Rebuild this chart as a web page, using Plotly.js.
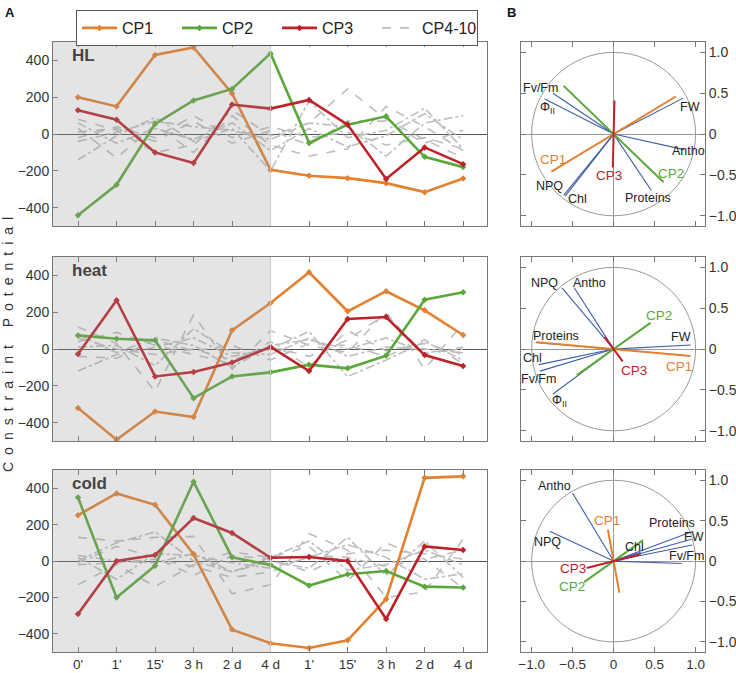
<!DOCTYPE html>
<html>
<head>
<meta charset="utf-8">
<script src="https://cdn.plot.ly/plotly-3.0.1.min.js"></script>
<style>html,body{margin:0;padding:0;background:#fff;}</style>
</head>
<body>
<div id="chart" style="width:736px;height:673px;"></div>
<script>
// ---------------- DATA ----------------
const timeLabels = ["0'", "1'", "15'", "3 h", "2 d", "4 d", "1'", "15'", "3 h", "2 d", "4 d"];
const timeIdx = [0,1,2,3,4,5,6,7,8,9,10];
const panelNames = ["HL", "heat", "cold"];

// Panel A: constraint potentials
const hlCP1 = [200, 150, 430, 470, 220, -195, -227, -240, -267, -316, -242];
const hlCP2 = [-442, -276, 55, 182, 245, 438, -49, 51, 96, -124, -180];
const hlCP3 = [129, 78, -100, -158, 160, 138, 185, 51, -244, -73, -164];
const hlRest = [
  [80, 20, -100, -60, 130, -10, 60, 245, 80, -30, -130],
  [-140, -10, 90, -40, 30, -200, 180, -20, 20, 140, -80],
  [30, -130, 50, -100, 100, -60, -120, -80, 150, 40, -90],
  [-40, 10, 70, 40, 20, -30, 60, 40, -120, 60, 100],
  [10, 30, -40, 70, -50, 20, -60, 70, 70, -50, 20],
  [60, -50, 30, -30, 60, -90, 30, -70, -10, 110, -30],
  [-20, 40, -20, 100, -20, 40, -20, 10, -60, -20, -80]
];

const heatCP1 = [-320, -493, -340, -370, 102, 250, 417, 205, 314, 210, 76];
const heatCP2 = [74, 56, 47, -267, -149, -127, -85, -105, -36, 268, 308];
const heatCP3 = [-27, 265, -149, -125, -73, 11, -120, 163, 174, -33, -93];
const heatRest = [
  [120, 30, -230, 185, -110, 100, 20, -20, 205, -110, 140],
  [-120, -30, 10, 60, -40, 0, 95, -150, -60, 40, -60],
  [40, 90, 20, -30, -80, 40, -100, 100, -10, 30, -30],
  [80, -20, 60, 20, -100, 20, 50, 0, 60, -20, 0],
  [-40, -50, 50, -10, 20, -60, 30, 20, -40, 50, -80],
  [10, 20, -90, 110, -20, -30, 60, -40, 10, 0, -20],
  [60, 0, -30, 0, -60, 10, -40, 50, 190, -30, 10]
];

const coldCP1 = [252, 371, 309, 38, -377, -452, -478, -436, -209, 457, 465];
const coldCP2 = [349, -201, -26, 435, 20, -22, -135, -73, -55, -141, -146];
const coldCP3 = [-291, 0, 33, 236, 154, 18, 22, 0, -318, 80, 60];
const coldRest = [
  [130, 110, 130, 135, -180, -130, 150, 60, -200, -170, 120],
  [0, 100, 160, 0, -60, 0, -40, 130, -80, 110, -90],
  [-130, -20, -140, -20, 50, 20, 80, -110, 100, 10, -150],
  [20, -100, 40, 30, -10, -40, 20, 90, 20, -100, -70],
  [-10, 80, 20, -80, 30, 10, -60, 40, 60, 40, 10],
  [30, 0, -10, 40, -60, 20, 110, -50, -20, 60, -20],
  [-20, -10, 10, -30, -90, -60, 30, 20, -30, 10, 60]
];

// Panel B: loadings (variable vectors) and CP directions
const hlVarNames = ["Fv/Fm", "Φ<sub>II</sub>", "FW", "Antho", "Proteins", "NPQ", "Chl"];
const hlVarX = [-0.74, -0.84, 0.85, 0.86, 0.46, -0.61, -0.59];
const hlVarY = [0.50, 0.43, 0.44, -0.19, -0.69, -0.75, -0.76];
const hlCPX = [-0.76, 0.61, -0.01];
const hlCPY = [-0.46, -0.59, -0.41];

const heatVarNames = ["FW", "NPQ", "Antho", "Proteins", "Chl", "Fv/Fm", "Φ<sub>II</sub>"];
const heatVarX = [0.94, -0.63, -0.48, -0.95, -0.91, -0.90, -0.74];
const heatVarY = [0.05, 0.75, 0.75, 0.08, -0.19, -0.27, -0.55];
const heatCPX = [0.94, 0.45, 0.11];
const heatCPY = [-0.085, 0.32, -0.15];

const coldVarNames = ["Antho", "NPQ", "Proteins", "FW", "", "Fv/Fm", "Chl"];
const coldVarX = [-0.50, -0.78, 0.97, 0.95, 0.96, 0.83, 0.33];
const coldVarY = [0.84, 0.37, 0.37, 0.27, 0.20, -0.03, 0.11];
const coldCPX = [-0.07, -0.36, -0.33];
const coldCPY = [0.39, -0.26, -0.085];

const cpNames = ["CP1", "CP2", "CP3"];
const biTickVals = [-1, -0.5, 0, 0.5, 1];
const biTickText = ["−1.0", "−0.5", "0", "0.5", "1.0"];

// ---------------- STYLE ----------------
const FONT = "Liberation Sans, Arial, sans-serif";
const cpColors = ["#E5802E", "#5BA83A", "#BE2229"];
const greyColor = "#BEBEBE";
const blueColor = "#3D5EA6";
const restDash = ["dash", "dashdot", "dash", "dashdot", "dash", "dashdot", "dash"];
const W = 736, H = 673;
const px = v => v / W;
const py = v => 1 - v / H;

const aDomX = [px(53), px(487)];
const bDomX = [px(521), px(705)];
const rowDomY = [[py(226), py(42)], [py(441), py(257)], [py(652), py(470)]];

// label pixel offsets (style) for panel B
const hlVarOff = [[-12, 5], [3, -9], [7, -9], [4, -1], [-3, -8], [-14, 9], [12, -3]];
const hlCPOff = [[2, 12], [7, 9], [-4, -8]];
const heatVarOff = [[-10, 8], [-17, 5], [15, 5], [20, 7], [-7, 7], [-1, -8], [7, -7]];
const heatCPOff = [[-12, -10], [8, 7], [11, -9]];
const coldVarOff = [[-18, 7], [-2, -11], [-21, 8], [3, 2], [0, 0], [5, 8], [-6, 5]];
const coldCPOff = [[-1, 9], [-12, -4], [-14, -1]];

const panelsA = [
  {cp: [hlCP1, hlCP2, hlCP3], rest: hlRest},
  {cp: [heatCP1, heatCP2, heatCP3], rest: heatRest},
  {cp: [coldCP1, coldCP2, coldCP3], rest: coldRest}
];
const panelsB = [
  {names: hlVarNames, vx: hlVarX, vy: hlVarY, cx: hlCPX, cy: hlCPY, vo: hlVarOff, co: hlCPOff},
  {names: heatVarNames, vx: heatVarX, vy: heatVarY, cx: heatCPX, cy: heatCPY, vo: heatVarOff, co: heatCPOff},
  {names: coldVarNames, vx: coldVarX, vy: coldVarY, cx: coldCPX, cy: coldCPY, vo: coldVarOff, co: coldCPOff}
];

const traces = [];
const shapes = [];
const annotations = [];
const layout = {
  width: W, height: H,
  margin: {l: 0, r: 0, t: 0, b: 0},
  paper_bgcolor: "#fff", plot_bgcolor: "#fff",
  font: {family: FONT, size: 14, color: "#333"},
  showlegend: true,
  legend: {
    orientation: "h", x: px(76), y: py(10), xanchor: "left", yanchor: "top",
    bordercolor: "#555", borderwidth: 1, bgcolor: "#fff",
    font: {family: FONT, size: 16, color: "#222"},
    entrywidth: 50, entrywidthmode: "pixels", itemwidth: 35,
    traceorder: "normal"
  }
};

panelsA.forEach((p, i) => {
  const xa = i === 0 ? "x" : "x" + (i + 1);
  const ya = i === 0 ? "y" : "y" + (i + 1);
  p.rest.forEach((s, j) => {
    traces.push({
      x: timeIdx, y: s, xaxis: xa, yaxis: ya, type: "scatter", mode: "lines",
      name: "CP4-10", legendgroup: "rest", legendrank: 4,
      showlegend: i === 0 && j === 0,
      line: {color: greyColor, width: 1.6, dash: restDash[j]},
      hoverinfo: "skip"
    });
  });
  p.cp.forEach((s, k) => {
    traces.push({
      x: timeIdx, y: s, xaxis: xa, yaxis: ya, type: "scatter", mode: "lines+markers",
      name: cpNames[k], legendgroup: cpNames[k], legendrank: k + 1,
      showlegend: i === 0,
      line: {color: cpColors[k], width: 2.6},
      marker: {color: cpColors[k], size: 5, symbol: "diamond"}
    });
  });
  const n = i + 1;
  const key = n === 1 ? "" : n;
  layout["xaxis" + key] = {
    domain: aDomX, anchor: ya, range: [-0.65, 10.62],
    tickvals: timeIdx, ticktext: timeLabels, showticklabels: i === 2,
    ticks: "inside", ticklen: 5, tickcolor: "#777", showgrid: false, zeroline: false,
    showline: true, mirror: "ticks", linecolor: "#777", linewidth: 1,
    tickfont: {family: FONT, size: 13.5, color: "#333"}
  };
  layout["yaxis" + key] = {
    domain: rowDomY[i], anchor: xa, range: [-500, 500],
    tickvals: [-400, -200, 0, 200, 400], ticks: "inside", ticklen: 5, tickcolor: "#777",
    showgrid: false, zeroline: true, zerolinecolor: "#555", zerolinewidth: 1,
    showline: true, mirror: true, linecolor: "#777", linewidth: 1,
    tickfont: {family: FONT, size: 14, color: "#333"}
  };
  shapes.push({
    type: "rect", xref: xa, yref: ya + " domain", x0: -1, x1: 5, y0: 0, y1: 1,
    fillcolor: "rgba(150,150,150,0.26)", line: {width: 0}, layer: "above"
  });
  shapes.push({
    type: "line", xref: xa, yref: ya + " domain", x0: 5, x1: 5, y0: 0, y1: 1,
    line: {color: "#d0d0d0", width: 1}, layer: "above"
  });
  annotations.push({
    xref: xa + " domain", yref: ya + " domain", x: 0.04, y: 0.99,
    xanchor: "left", yanchor: "top", showarrow: false,
    text: "<b>" + panelNames[i] + "</b>", font: {family: FONT, size: 17, color: "#444"}
  });
});

panelsB.forEach((p, i) => {
  const n = i + 4;
  const xa = "x" + n, ya = "y" + n;
  shapes.push({
    type: "circle", xref: xa, yref: ya, x0: -1, x1: 1, y0: -1, y1: 1,
    line: {color: "#999", width: 1}, layer: "below"
  });
  p.vx.forEach((vx, j) => {
    traces.push({
      x: [0, vx], y: [0, p.vy[j]], xaxis: xa, yaxis: ya, type: "scatter", mode: "lines",
      showlegend: false, line: {color: blueColor, width: 1.1}, hoverinfo: "skip"
    });
    if (p.names[j]) {
      annotations.push({
        xref: xa, yref: ya, x: vx, y: p.vy[j], text: p.names[j], showarrow: false,
        xshift: p.vo[j][0], yshift: p.vo[j][1],
        font: {family: FONT, size: 12.5, color: "#222"}
      });
    }
  });
  p.cx.forEach((cx, k) => {
    traces.push({
      x: [-cx, cx], y: [-p.cy[k], p.cy[k]], xaxis: xa, yaxis: ya, type: "scatter", mode: "lines",
      showlegend: false, line: {color: cpColors[k], width: 2}, hoverinfo: "skip"
    });
    annotations.push({
      xref: xa, yref: ya, x: cx, y: p.cy[k], text: cpNames[k], showarrow: false,
      xshift: p.co[k][0], yshift: p.co[k][1],
      font: {family: FONT, size: 13.5, color: cpColors[k]}
    });
  });
  layout["xaxis" + n] = {
    domain: bDomX, anchor: ya, range: [-1.13, 1.115],
    tickvals: biTickVals, ticktext: biTickText, showticklabels: i === 2,
    ticks: "inside", ticklen: 5, tickcolor: "#777", showgrid: false,
    zeroline: true, zerolinecolor: "#999", zerolinewidth: 1,
    showline: true, mirror: "ticks", linecolor: "#777", linewidth: 1,
    tickfont: {family: FONT, size: 13.5, color: "#333"}
  };
  layout["yaxis" + n] = {
    domain: rowDomY[i], anchor: xa, range: [-1.125, 1.127], side: "right",
    tickvals: biTickVals, ticktext: biTickText,
    ticks: "inside", ticklen: 5, tickcolor: "#777", showgrid: false,
    zeroline: true, zerolinecolor: "#999", zerolinewidth: 1,
    showline: true, mirror: "ticks", linecolor: "#777", linewidth: 1,
    tickfont: {family: FONT, size: 14, color: "#333"}
  };
});

// Panel letters and y-axis title
annotations.push({xref: "paper", yref: "paper", x: px(3), y: py(3), xanchor: "left", yanchor: "top",
  showarrow: false, text: "<b>A</b>", font: {family: FONT, size: 13, color: "#111"}});
annotations.push({xref: "paper", yref: "paper", x: px(505), y: py(3), xanchor: "left", yanchor: "top",
  showarrow: false, text: "<b>B</b>", font: {family: FONT, size: 13, color: "#111"}});
const yTitle = "Constraint Potential".split("").join("\u2002");
annotations.push({xref: "paper", yref: "paper", x: px(8), y: py(345), xanchor: "center", yanchor: "middle",
  showarrow: false, textangle: -90, text: yTitle, font: {family: FONT, size: 14, color: "#333"}});

layout.shapes = shapes;
layout.annotations = annotations;

Plotly.newPlot("chart", traces, layout, {staticPlot: true, displayModeBar: false});
</script>
</body>
</html>
